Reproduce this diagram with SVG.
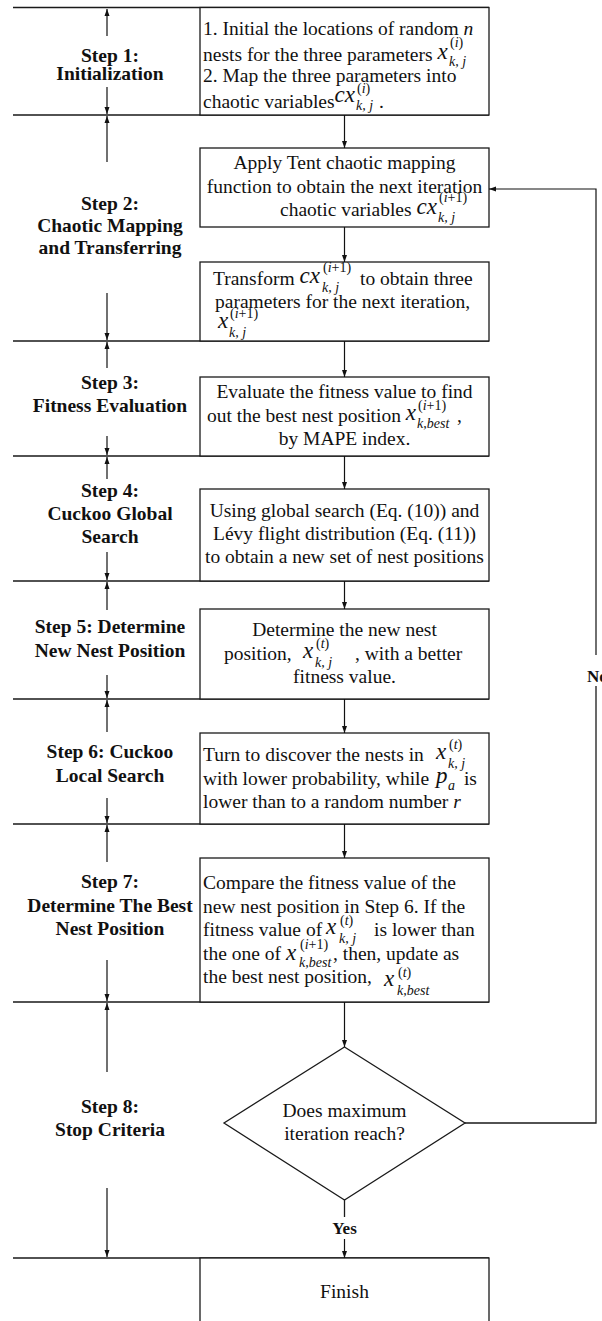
<svg xmlns="http://www.w3.org/2000/svg" width="602" height="1321" viewBox="0 0 602 1321">
<defs>
<marker id="ah" markerUnits="userSpaceOnUse" markerWidth="8" markerHeight="6" refX="7" refY="3" orient="auto">
<path d="M0,0.5 L7,3 L0,5.5 z" fill="#111"/>
</marker>
<style>
.ln{stroke:#1a1a1a;stroke-width:1.3;fill:none}
.ar{stroke:#111;stroke-width:1.2;fill:none;marker-end:url(#ah)}
.bx{stroke:#1a1a1a;stroke-width:1.3;fill:#fff}
.lbl{font-family:"Liberation Serif",serif;font-weight:bold;font-size:19.5px;text-anchor:middle;fill:#111}
.t{font-family:"Liberation Serif",serif;font-size:19.5px;fill:#111}
.c{text-anchor:middle}
.mi{font-style:italic;font-size:23px}
.s{font-size:14px}
.si{font-size:14px;font-style:italic}
</style>
</defs>
<rect width="602" height="1321" fill="#fff"/>

<g id="lanes">
<path class="ln" d="M13,7.5H489 M13,115H489 M13,341H489 M13,456H489 M13,581H489 M13,699H489 M13,824H489 M13,1002H489 M13,1258H489"/>
</g>

<g id="step1-box">
<rect class="bx" x="200" y="7.5" width="289" height="107.5"/>
<text class="t" x="203" y="35">1. Initial the locations of random <tspan font-style="italic">n</tspan></text>
<text class="t" x="203" y="61">nests for the three parameters <tspan class="mi" y="59">x</tspan><tspan class="s" x="450" y="47">(<tspan font-style="italic">i</tspan>)</tspan><tspan class="si" x="449" y="66">k, j</tspan></text>
<text class="t" x="203" y="82">2. Map the three parameters  into</text>
<text class="t" x="203" y="108">chaotic variables<tspan class="mi" y="102">cx</tspan><tspan class="s" x="357" y="93">(<tspan font-style="italic">i</tspan>)</tspan><tspan class="si" x="356" y="110">k, j</tspan><tspan x="374" y="108"> .</tspan></text>
</g>

<g id="step2-box-a">
<rect class="bx" x="200" y="148" width="289" height="79"/>
<text class="t c" x="344.5" y="169">Apply Tent chaotic mapping</text>
<text class="t c" x="344.5" y="193">function to obtain the next iteration</text>
<text class="t" x="280" y="216">chaotic variables <tspan class="mi" y="214">cx</tspan><tspan class="s" x="439" y="202">(<tspan font-style="italic">i</tspan>+1)</tspan><tspan class="si" x="438" y="222">k, j</tspan></text>
</g>

<g id="step2-box-b">
<rect class="bx" x="200" y="262" width="289" height="79"/>
<text class="t" x="213" y="285">Transform <tspan class="mi" y="283">cx</tspan><tspan class="s" x="323" y="272">(<tspan font-style="italic">i</tspan>+1)</tspan><tspan class="si" x="322" y="292">k, j</tspan><tspan x="360" y="285">to obtain three</tspan></text>
<text class="t" x="215" y="308">parameters for the next iteration,</text>
<text class="t" x="218" y="328"><tspan class="mi">x</tspan><tspan class="s" x="230" y="318">(<tspan font-style="italic">i</tspan>+1)</tspan><tspan class="si" x="229" y="337">k, j</tspan></text>
</g>

<g id="step3-box">
<rect class="bx" x="200" y="377" width="289" height="79"/>
<text class="t c" x="344.5" y="398">Evaluate the fitness value  to find</text>
<text class="t" x="207" y="422">out the best nest position <tspan class="mi" y="420">x</tspan><tspan class="s" x="418" y="410">(<tspan font-style="italic">i</tspan>+1)</tspan><tspan class="si" x="417" y="428">k,best</tspan><tspan x="452" y="422"> ,</tspan></text>
<text class="t c" x="344.5" y="445">by MAPE index.</text>
</g>

<g id="step4-box">
<rect class="bx" x="200" y="489" width="289" height="92"/>
<text class="t c" x="344.5" y="517">Using global search (Eq. (10)) and</text>
<text class="t c" x="344.5" y="540">Lévy flight distribution (Eq. (11))</text>
<text class="t c" x="344.5" y="563">to obtain a new set of nest positions</text>
</g>

<g id="step5-box">
<rect class="bx" x="200" y="609" width="289" height="90"/>
<text class="t c" x="344.5" y="636">Determine the new nest</text>
<text class="t" x="224" y="660">position, <tspan class="mi" x="303" y="658">x</tspan><tspan class="s" x="316" y="648">(<tspan font-style="italic">t</tspan>)</tspan><tspan class="si" x="315" y="667">k, j</tspan><tspan x="355" y="660">, with a better</tspan></text>
<text class="t c" x="344.5" y="683">fitness value.</text>
</g>

<g id="step6-box">
<rect class="bx" x="200" y="733" width="289" height="91"/>
<text class="t" x="203" y="761">Turn to discover the nests in <tspan class="mi" x="436" y="759">x</tspan><tspan class="s" x="449" y="749">(<tspan font-style="italic">t</tspan>)</tspan><tspan class="si" x="448" y="768">k, j</tspan></text>
<text class="t" x="203" y="785">with lower probability, while <tspan class="mi" x="436" y="783">p</tspan><tspan class="si" x="448" y="790">a</tspan><tspan x="459" y="785"> is</tspan></text>
<text class="t" x="203" y="808">lower than to a random number <tspan font-style="italic">r</tspan></text>
</g>

<g id="step7-box">
<rect class="bx" x="200" y="858" width="289" height="144"/>
<text class="t" x="203" y="889">Compare the fitness value of the</text>
<text class="t" x="203" y="913">new nest position in Step 6. If the</text>
<text class="t" x="203" y="936">fitness value of <tspan class="mi" x="326" y="934">x</tspan><tspan class="s" x="340" y="925">(<tspan font-style="italic">t</tspan>)</tspan><tspan class="si" x="339" y="943">k, j</tspan><tspan x="374" y="936">is lower than</tspan></text>
<text class="t" x="203" y="960">the one of <tspan class="mi" x="286" y="960">x</tspan><tspan class="s" x="300" y="949">(<tspan font-style="italic">i</tspan>+1)</tspan><tspan class="si" x="299" y="967">k,best</tspan><tspan x="333" y="960">, then, update  as</tspan></text>
<text class="t" x="203" y="983">the best nest position, <tspan class="mi" x="384" y="986">x</tspan><tspan class="s" x="398" y="977">(<tspan font-style="italic">t</tspan>)</tspan><tspan class="si" x="397" y="995">k,best</tspan></text>
</g>

<g id="step8-decision">
<path class="bx" d="M344.5,1047 L465,1123 L344.5,1200 L224,1123 Z"/>
<text class="t c" x="344.5" y="1117">Does maximum</text>
<text class="t c" x="344.5" y="1140">iteration reach?</text>
</g>

<g id="finish-box">
<rect class="bx" x="200" y="1258" width="289" height="80"/>
<text class="t c" x="344.5" y="1298">Finish</text>
</g>

<g id="step-labels">
<text class="lbl" x="110" y="62">Step 1:</text>
<text class="lbl" x="110" y="80">Initialization</text>
<text class="lbl" x="110" y="210">Step 2:</text>
<text class="lbl" x="110" y="232">Chaotic Mapping</text>
<text class="lbl" x="110" y="254">and Transferring</text>
<text class="lbl" x="110" y="389">Step 3:</text>
<text class="lbl" x="110" y="412">Fitness Evaluation</text>
<text class="lbl" x="110" y="497">Step 4:</text>
<text class="lbl" x="110" y="520">Cuckoo Global</text>
<text class="lbl" x="110" y="543">Search</text>
<text class="lbl" x="110" y="633">Step 5: Determine</text>
<text class="lbl" x="110" y="657">New Nest Position</text>
<text class="lbl" x="110" y="758">Step 6: Cuckoo</text>
<text class="lbl" x="110" y="782">Local Search</text>
<text class="lbl" x="110" y="888">Step 7:</text>
<text class="lbl" x="110" y="912">Determine The Best</text>
<text class="lbl" x="110" y="935">Nest Position</text>
<text class="lbl" x="110" y="1113">Step 8:</text>
<text class="lbl" x="110" y="1136">Stop Criteria</text>
</g>

<g id="connectors">
<path class="ar" d="M107,36V9"/>
<path class="ar" d="M107,87V114"/>
<path class="ar" d="M107,162V116"/>
<path class="ar" d="M107,293V340"/>
<path class="ar" d="M107,368V342"/>
<path class="ar" d="M107,436V455"/>
<path class="ar" d="M107,479V457"/>
<path class="ar" d="M107,552V580"/>
<path class="ar" d="M107,610V582"/>
<path class="ar" d="M107,675V698"/>
<path class="ar" d="M107,732V700"/>
<path class="ar" d="M107,798V823"/>
<path class="ar" d="M107,862V825"/>
<path class="ar" d="M107,960V1001"/>
<path class="ar" d="M107,1072V1003"/>
<path class="ar" d="M107,1188V1257"/>
<path class="ar" d="M344.5,115V148"/>
<path class="ar" d="M344.5,227V262"/>
<path class="ar" d="M344.5,341V377"/>
<path class="ar" d="M344.5,456V489"/>
<path class="ar" d="M344.5,581V609"/>
<path class="ar" d="M344.5,699V733"/>
<path class="ar" d="M344.5,824V858"/>
<path class="ar" d="M344.5,1002V1047"/>
<path class="ln" d="M344.5,1200V1217"/>
<path class="ar" d="M344.5,1239V1258"/>
<text class="lbl" x="344.5" y="1234" style="font-size:17px">Yes</text>
<path class="ln" d="M465,1123H596V686"/>
<path class="ar" d="M596,655V189H489"/>
<text class="lbl" x="587" y="682" style="text-anchor:start;font-size:17px">No</text>
</g>
</svg>
